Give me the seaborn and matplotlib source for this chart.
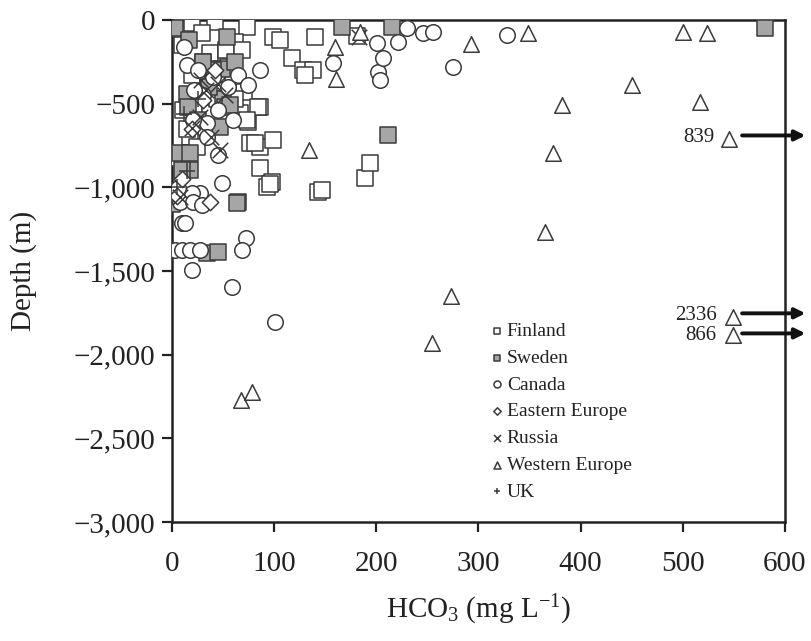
import numpy as np
import pandas as pd
import matplotlib
matplotlib.use("Agg")
import matplotlib.pyplot as plt
import seaborn as sns
from matplotlib.ticker import FuncFormatter

# ---------------- data ----------------
fin_x = [20, 42, 29, 73, 62, 37, 53, 69, 20, 35, 45, 60, 70, 11, 22, 74, 86, 37, 67,
         76, 86, 99, 18, 24, 6, 86, 98, 143, 93, 99, 106, 117, 128, 138, 140, 130,
         181, 147, 189, 194, 96, 81, 84, 73, 10, 30, 55, 44, 15, 62]
fin_y = [-20, -10, -80, -40, -130, -200, -180, -180, -330, -380, -420, -350, -430, -540,
         -525, -610, -520, -556, -556, -735, -760, -717, -700, -760, -825, -885, -968,
         -1028, -1000, -100, -120, -227, -299, -299, -100, -329, -95, -1016, -944, -855,
         -980, -735, -520, -598, -150, -250, -280, -470, -650, -470]

swe_x = [3, 17, 54, 49, 62, 40, 15, 50, 16, 52, 57, 47, 8, 18, 18, 10, 0, 65, 34, 45,
         166, 215, 211, 580, 64, 30, 25, 36]
swe_y = [-50, -120, -100, -290, -250, -300, -440, -470, -520, -520, -508, -640, -795,
         -795, -896, -896, -1100, -1088, -1392, -1386, -40, -40, -687, -50, -1094,
         -250, -600, -400]

can_x = [15, 86, 25, 40, 30, 55, 65, 74, 34, 21, 34, 49, 45, 27, 20, 8, 21, 29, 10, 13,
         3, 10, 18, 27, 72, 69, 20, 59, 101, 6, 202, 204, 207, 201, 221, 230, 246, 255,
         275, 158, 328, 12, 45, 22, 60]
can_y = [-270, -300, -300, -340, -450, -400, -330, -390, -615, -598, -700, -975, -807,
         -1035, -1035, -1088, -1088, -1105, -1213, -1213, -1375, -1375, -1375, -1375,
         -1303, -1375, -1494, -1595, -1805, -1005, -311, -359, -227, -137, -131, -48,
         -78, -72, -281, -257, -90, -160, -540, -420, -600]

eeu_x = [37, 20, 10, 30, 5, 42]
eeu_y = [-1088, -650, -950, -480, -1050, -300]

rus_x = [28, 45, 33, 27, 20, 47, 8, 183, 38, 52]
rus_y = [-360, -380, -420, -580, -645, -777, -1058, -100, -700, -450]

weu_x = [68, 78, 254, 273, 365, 373, 134, 382, 450, 517, 545, 549, 549, 500, 524, 348,
         293, 160, 161, 184]
weu_y = [-2271, -2223, -1930, -1650, -1267, -795, -777, -508, -388, -490, -711, -1775,
         -1882, -70, -80, -80, -145, -160, -350, -70]

uk_x = [5, 12, 25, 15]
uk_y = [-1000, -560, -470, -900]

ann_labels = ["839", "2336", "866"]
ann_x = [531, 533, 533]
ann_y = [-705, -1768, -1888]

# ---------------- style ----------------
sns.set_style("white")
plt.rcParams["font.family"] = ["Liberation Serif", "DejaVu Serif"]
plt.rcParams["mathtext.fontset"] = "custom"
plt.rcParams["mathtext.rm"] = "Liberation Serif"
plt.rcParams["mathtext.it"] = "Liberation Serif:italic"

fig = plt.figure(figsize=(8.11, 6.41), dpi=100)
ax = fig.add_axes([172 / 811, 1 - 522 / 641, 613 / 811, 502 / 641])

edge = "#3a3a3a"
S = 125
lw = 1.1

groups = [
    ("Finland", fin_x, fin_y, dict(marker="s", facecolor="white", edgecolor=edge)),
    ("Sweden", swe_x, swe_y, dict(marker="s", facecolor="#a6a6a6", edgecolor=edge)),
    ("Canada", can_x, can_y, dict(marker="o", facecolor="white", edgecolor=edge)),
    ("Eastern Europe", eeu_x, eeu_y, dict(marker="D", facecolor="white", edgecolor=edge, s=70)),
    ("Russia", rus_x, rus_y, dict(marker="x", color=edge)),
    ("Western Europe", weu_x, weu_y, dict(marker="^", facecolor="white", edgecolor=edge)),
    ("UK", uk_x, uk_y, dict(marker="+", color=edge)),
]

for name, xs, ys, kw in groups:
    df = pd.DataFrame({"x": xs, "y": ys})
    kw = dict(kw)
    s = kw.pop("s", S)
    sns.scatterplot(data=df, x="x", y="y", ax=ax, s=s, linewidth=lw,
                    label=name, zorder=3, clip_on=True, **kw)

ax.set_xlim(0, 600)
ax.set_ylim(-3000, 0)
ax.set_xticks(np.arange(0, 601, 100))
ax.set_yticks(np.arange(-3000, 1, 500))
ax.yaxis.set_major_formatter(FuncFormatter(
    lambda v, p: "0" if v == 0 else ("\u2212" if v < 0 else "") + f"{abs(int(v)):,}"))

for sp in ax.spines.values():
    sp.set_visible(True)
    sp.set_linewidth(1.8)
    sp.set_color("#222222")
ax.tick_params(axis="both", direction="out", length=7, width=1.6, color="#222222",
               labelsize=21, labelcolor="#222222", pad=5)
ax.tick_params(axis="x", pad=14)
ax.tick_params(axis="both", which="both", bottom=True, left=True)

ax.set_xlabel("HCO$_3$ (mg L$^{-1}$)", fontsize=21, color="#222222", labelpad=11)
ax.set_ylabel("Depth (m)", fontsize=21, color="#222222", labelpad=26)

leg = ax.legend(loc="upper left", bbox_to_anchor=(0.505, 0.413), frameon=False,
                markerscale=0.45, fontsize=14, handletextpad=0.1, labelspacing=0.47,
                handlelength=0.8, borderaxespad=0)
for t in leg.get_texts():
    t.set_color("#222222")

for lab, tx, ty in zip(ann_labels, ann_x, ann_y):
    ax.text(tx, ty, lab, ha="right", va="center", fontsize=15, color="#222222")
    ax.annotate("", xy=(620, ty + 15), xytext=(558, ty + 15), xycoords="data",
                annotation_clip=False,
                arrowprops=dict(arrowstyle="-|>,head_length=0.6,head_width=0.3",
                                lw=2.8, color="#111111", shrinkA=0, shrinkB=0))

fig.savefig("out.png", dpi=100)
